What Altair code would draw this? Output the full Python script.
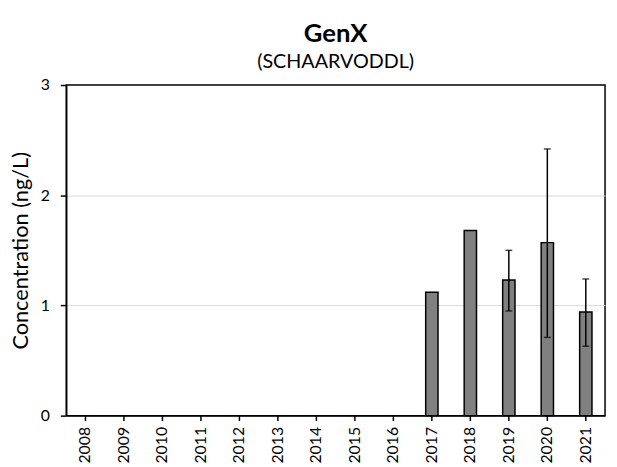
import altair as alt
import pandas as pd

years = [str(y) for y in range(2008, 2022)]
bar_years = ["2017", "2018", "2019", "2020", "2021"]
bar_values = [1.12, 1.68, 1.23, 1.57, 0.94]
err_years = ["2019", "2020", "2021"]
err_low = [0.95, 0.71, 0.63]
err_high = [1.50, 2.42, 1.24]

FONT = "Lato"

bars_df = pd.DataFrame({"year": bar_years, "value": bar_values})
err_df = pd.DataFrame({"year": err_years, "low": err_low, "high": err_high})

xscale = alt.Scale(domain=years, paddingInner=0.68, paddingOuter=0.34)
yscale = alt.Scale(domain=[0, 3], nice=False)

x = alt.X("year:N", scale=xscale, sort=years,
          axis=alt.Axis(title=None, labelAngle=-90, labelFontSize=16, labelFont=FONT,
                        labelColor="black", tickColor="black", domainColor="black",
                        tickSize=5, labelPadding=6, labelBaseline="middle", labelAlign="right",
                        domainWidth=1.5, tickWidth=1.5))

bars = alt.Chart(bars_df).mark_bar(color="#808080", stroke="black", strokeWidth=1.5).encode(
    x=x,
    y=alt.Y("value:Q", scale=yscale,
            axis=alt.Axis(title="Concentration (ng/L)", values=[0, 1, 2, 3], format="d",
                          titleFontSize=22, titleFont=FONT, titleFontWeight="normal",
                          titleColor="black", labelFontSize=16, labelFont=FONT,
                          labelColor="black", tickColor="black", domainColor="black",
                          tickSize=6, labelPadding=11, titlePadding=8,
                          gridColor={"condition": {"test": "datum.value == 1 || datum.value == 2",
                                                   "value": "#d9d9d9"},
                                     "value": "transparent"},
                          gridWidth=1, domainWidth=1.5, tickWidth=1.5)),
)

rules = alt.Chart(err_df).mark_rule(color="black", strokeWidth=1.5).encode(
    x=alt.X("year:N", scale=xscale, sort=years),
    y=alt.Y("low:Q", scale=yscale),
    y2="high:Q",
)
caps_low = alt.Chart(err_df).mark_tick(color="black", thickness=1.5, size=7).encode(
    x=alt.X("year:N", scale=xscale, sort=years),
    y=alt.Y("low:Q", scale=yscale),
)
caps_high = alt.Chart(err_df).mark_tick(color="black", thickness=1.5, size=7).encode(
    x=alt.X("year:N", scale=xscale, sort=years),
    y=alt.Y("high:Q", scale=yscale),
)

chart = alt.layer(bars, rules, caps_low, caps_high).properties(
    width=546,
    height=335,
    background="white",
    title=alt.TitleParams(text="GenX", subtitle="(SCHAARVODDL)", font=FONT, fontSize=26,
                          fontWeight="bold", color="black", subtitleFont=FONT,
                          subtitleFontSize=20, subtitleColor="black", subtitlePadding=6,
                          offset=5, anchor="middle"),
    autosize=alt.AutoSizeParams(type="none"),
    padding={"left": 59, "top": 75, "right": 4, "bottom": 49},
).configure_view(stroke="black", strokeWidth=1.5)

chart.save("out.html", embed_options={"renderer": "svg", "actions": False})
